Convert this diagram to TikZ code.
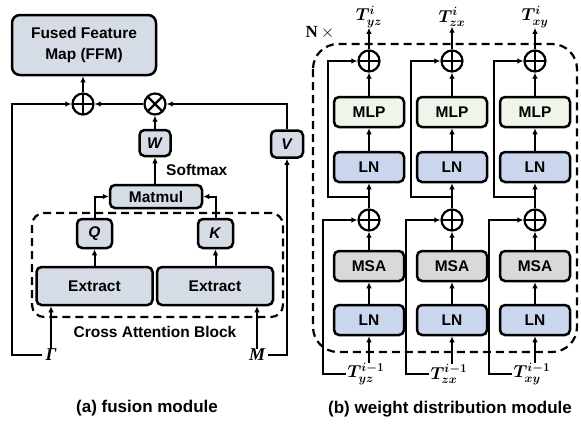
\documentclass[tikz,border=0pt]{standalone}
\usepackage{fontspec}
\usepackage{bm}
\setmainfont{Liberation Serif}
\setsansfont{Liberation Sans}
\usetikzlibrary{arrows.meta}
\definecolor{fusc}{HTML}{D6DCE5}
\definecolor{lnc}{HTML}{CAD6EE}
\definecolor{mlpc}{HTML}{EFF5E9}
\definecolor{msac}{HTML}{D9D9D9}
\newcommand{\bxfont}{\fontsize{15.5}{17}\selectfont\sffamily\bfseries}
\newcommand{\capfont}{\fontsize{17}{19}\selectfont\sffamily\bfseries}
\newcommand{\mlabfont}{\fontsize{18}{20}\selectfont}
\begin{document}
\begin{tikzpicture}[x=1pt,y=-1pt,
  blk/.style={draw, line width=2.5pt, rounded corners=5pt, align=center, inner sep=0pt, font=\bxfont},
  fus/.style={blk, fill=fusc},
  lnbox/.style={blk, fill=lnc, minimum width=70, minimum height=30},
  mlpbox/.style={blk, fill=mlpc, minimum width=70, minimum height=30},
  msabox/.style={blk, fill=msac, minimum width=70, minimum height=30},
  arr/.style={line width=2pt, -{Latex[length=6pt,width=5.5pt]}},
  opl/.style={circle, draw, line width=2.2pt, minimum size=21pt, inner sep=0pt,
    path picture={\draw[line width=2.2pt] (path picture bounding box.north) -- (path picture bounding box.south)
      (path picture bounding box.west) -- (path picture bounding box.east);}},
  otm/.style={circle, draw, line width=2.2pt, minimum size=21pt, inner sep=0pt,
    path picture={\draw[line width=2.2pt] (path picture bounding box.north west) -- (path picture bounding box.south east)
      (path picture bounding box.north east) -- (path picture bounding box.south west);}},
  dbox/.style={draw, line width=2.2pt, dash pattern=on 8pt off 5pt},
  lab/.style={inner sep=0pt, font=\mlabfont}
]
\useasboundingbox (0,0) rectangle (581,426);

% ---------- (a) fusion module ----------
\node[fus, minimum width=144, minimum height=60, rounded corners=8pt] (ffm) at (84,45) {Fused Feature\\[4pt]Map (FFM)};
\node[opl] (p1) at (83,104) {};
\node[otm] (ot) at (155,104) {};
\node[fus, minimum width=31, minimum height=26] (W) at (155,143) {\textit{W}};
\node[fus, minimum width=32, minimum height=27] (V) at (287,144) {\textit{V}};
\node[font=\bxfont, anchor=west, inner sep=0pt] (sm) at (166,170) {Softmax};
\node[fus, minimum width=92, minimum height=23] (mm) at (156,196.5) {Matmul};
\node[fus, minimum width=35, minimum height=29] (Q) at (94.5,233.5) {\textit{Q}};
\node[fus, minimum width=35, minimum height=29] (K) at (215.5,233.5) {\textit{K}};
\node[fus, minimum width=116, minimum height=38] (extL) at (94.5,286) {Extract};
\node[fus, minimum width=116, minimum height=38] (extR) at (215,286) {Extract};
\draw[dbox, rounded corners=12pt] (32,213) rectangle (283,317);
\node[font=\bxfont, inner sep=0pt] (cab) at (155,332) {Cross Attention Block};
\node[lab, font=\mlabfont\bfseries\itshape] (G) at (51,355) {Γ};
\node[lab, font=\mlabfont\bfseries\itshape] (M) at (257,355) {M};
\coordinate (lt) at (12,104);

\draw[arr] (G.north) -- (G.north |- extL.south);
\draw[arr] (M.north) -- (M.north |- extR.south);
\draw[arr] (extL) -- (Q);
\draw[arr] (extR.north -| K.south) -- (K.south);
\draw[arr] (Q.north) |- (mm.west);
\draw[arr] (K.north) |- (mm.east);
\draw[arr] (mm.north -| W.south) -- (W.south);
\draw[arr] (W) -- (ot);
\draw[arr] (ot) -- (p1);
\draw[arr] (p1.north) -- (p1.north |- ffm.south);
\draw[arr] (V.north) |- (ot.east);
\draw[arr] ([xshift=3pt]M.east) -| (V.south);
\draw[arr] ([xshift=-3pt]G.west) -| (lt) -- (p1.west);

\node[font=\capfont, inner sep=0pt] (capa) at (147,408) {(a) fusion module};

% ---------- (b) weight distribution module ----------
\draw[dbox, rounded corners=25pt] (313,44) rectangle (577,352);
\node[lab, font=\fontsize{17}{19}\selectfont] (nx) at (320,33) {$\mathbf{N}\,\times$};
\foreach \cx/\s/\n in {369/yz/a, 452/zx/b, 535/xy/c} {
  \node[lab] (to\n) at (\cx,17) {$\bm{T^{i}_{\s}}$};
  \node[opl] (pt\n) at (\cx,61) {};
  \node[mlpbox] (mlp\n) at (\cx,112) {MLP};
  \node[lnbox] (lnA\n) at (\cx,167) {LN};
  \coordinate (br\n) at (\cx,197);
  \node[opl] (pm\n) at (\cx,220) {};
  \node[msabox] (msa\n) at (\cx,266) {MSA};
  \node[lnbox] (lnB\n) at (\cx,320) {LN};
  \node[lab] (ti\n) at (\cx-3,374) {$\bm{T^{i-1}_{\s}}$};
  \coordinate (sk\n) at (\cx-41,61);
  \coordinate (sb\n) at (\cx-46,220);
  \draw[arr] (ti\n.north -| lnB\n.south) -- (lnB\n.south);
  \draw[arr] (lnB\n) -- (msa\n);
  \draw[arr] (msa\n) -- (pm\n);
  \draw[arr] (pm\n) -- (lnA\n);
  \draw[arr] (lnA\n) -- (mlp\n);
  \draw[arr] (mlp\n) -- (pt\n);
  \draw[arr] (pt\n.north) -- (pt\n.north |- to\n.south);
  \draw[arr] (br\n) -| (sk\n) -- (pt\n.west);
  \draw[arr] ([xshift=-2pt]ti\n.west) -| (sb\n) -- (pm\n.west);
}
\node[font=\capfont, inner sep=0pt] (capb) at (450,409) {(b) weight distribution module};
\end{tikzpicture}
\end{document}
